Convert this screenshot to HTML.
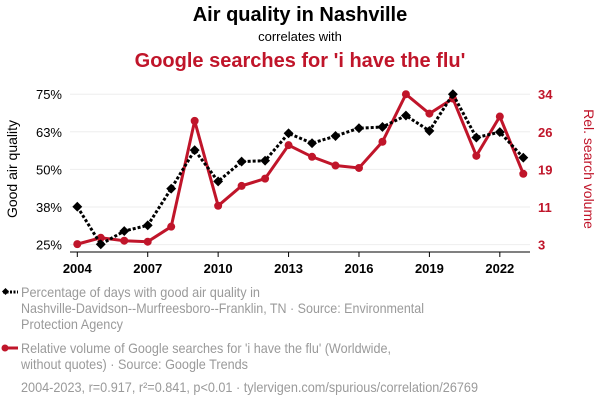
<!DOCTYPE html>
<html><head><meta charset="utf-8"><style>
body{margin:0;background:#fff;width:600px;height:408px;overflow:hidden;font-family:"Liberation Sans",sans-serif}
svg{display:block}
.leg{font-size:14px;fill:#9a9a9a}
</style></head><body>
<svg width="600" height="408" xmlns="http://www.w3.org/2000/svg">
<text x="300" y="21" text-anchor="middle" font-size="20" font-weight="bold" fill="#000">Air quality in Nashville</text>
<text x="300" y="41" text-anchor="middle" font-size="13" fill="#000">correlates with</text>
<text x="300" y="67" text-anchor="middle" font-size="20" font-weight="bold" fill="#c0152a">Google searches for 'i have the flu'</text>
<g id="grid"></g><g id="axes"></g><g id="series"></g>
<text transform="translate(17,169) rotate(-90)" text-anchor="middle" font-size="14" fill="#000">Good air quality</text>
<text transform="translate(584,169) rotate(90)" text-anchor="middle" font-size="14" fill="#c0152a">Rel. search volume</text>
<g>
<line x1="3" y1="292" x2="18" y2="292" stroke="#000" stroke-width="3" stroke-dasharray="2,1.5"/>
<rect x="3" y="289" width="5" height="5" transform="rotate(45 5.5 291.5)" fill="#000"/>
<text class="leg" x="21" y="297" textLength="239" lengthAdjust="spacingAndGlyphs">Percentage of days with good air quality in</text>
<text class="leg" x="21" y="313" textLength="403" lengthAdjust="spacingAndGlyphs">Nashville-Davidson--Murfreesboro--Franklin, TN · Source: Environmental</text>
<text class="leg" x="21" y="329" textLength="102" lengthAdjust="spacingAndGlyphs">Protection Agency</text></g>
<g>
<line x1="3" y1="348" x2="18" y2="348" stroke="#c0152a" stroke-width="3"/>
<circle cx="5" cy="348" r="3.5" fill="#c0152a"/>
<text class="leg" x="21" y="353" textLength="370" lengthAdjust="spacingAndGlyphs">Relative volume of Google searches for 'i have the flu' (Worldwide,</text>
<text class="leg" x="21" y="369" textLength="227" lengthAdjust="spacingAndGlyphs">without quotes) · Source: Google Trends</text></g>
<text class="leg" x="21" y="392" textLength="457" lengthAdjust="spacingAndGlyphs">2004-2023, r=0.917, r²=0.841, p&lt;0.01 · tylervigen.com/spurious/correlation/26769</text>
</svg>
<script>
const years=[2004,2005,2006,2007,2008,2009,2010,2011,2012,2013,2014,2015,2016,2017,2018,2019,2020,2021,2022,2023];
const airValues=[37.6,25.1,29.5,31.4,43.6,56.4,46,52.6,52.9,62,58.7,61.1,63.7,64.1,67.9,62.8,75,60.6,62.4,53.9];
const fluValues=[3.1,4.4,3.8,3.6,6.7,28.5,11,15.1,16.6,23.5,21.1,19.3,18.8,24.2,34,30,33.1,21.3,29.4,17.6];
const leftTicks=[25,37.5,50,62.5,75];
const leftLabels=["25%","38%","50%","63%","75%"];
const rightTicks=[3,10.75,18.5,26.25,34];
const rightLabels=["3","11","19","26","34"];
const xTicks=[2004,2007,2010,2013,2016,2019,2022];
const NS="http://www.w3.org/2000/svg";
const X=y=>77.3+(y-2004)*(446/19);
const YL=v=>244.6-(v-25)*(150.4/50);
const YR=v=>244.6-(v-3)*(150.4/31);
function mk(t,a,p){const e=document.createElementNS(NS,t);for(const k in a)e.setAttribute(k,a[k]);p.appendChild(e);return e;}
const grid=document.getElementById('grid'),axes=document.getElementById('axes'),ser=document.getElementById('series');
leftTicks.forEach((v,i)=>{
 const g=mk('line',{x1:70,x2:530,y1:YL(v),y2:YL(v),stroke:'#eee','stroke-width':1},grid);
 
 
 const t=mk('text',{x:62,y:YL(v)+5,'text-anchor':'end','font-size':13,fill:'#000'},axes);t.textContent=leftLabels[i];
 
 
});
rightTicks.forEach((v,i)=>{
 const t=mk('text',{x:538,y:YR(v)+5,'font-size':13,'font-weight':'bold',fill:'#c0152a'},axes);t.textContent=rightLabels[i];
 
 
});
const xa=mk('line',{x1:70,x2:530,y1:252,y2:252,stroke:'#000','stroke-width':1},axes);


xTicks.forEach(y=>{
 mk('line',{x1:X(y),x2:X(y),y1:252,y2:257,stroke:'#000'},axes);
 const t=mk('text',{x:X(y),y:273,'text-anchor':'middle','font-size':13,'font-weight':'bold',fill:'#000'},axes);t.textContent=y;
 
 
});
const fl=mk('polyline',{points:years.map((y,i)=>X(y)+','+YR(fluValues[i])).join(' '),fill:'none',stroke:'#c0152a','stroke-width':3},ser);


years.forEach((y,i)=>{const c=mk('circle',{cx:X(y),cy:YR(fluValues[i]),r:4,fill:'#c0152a'},ser);
 
 });
const al=mk('polyline',{points:years.map((y,i)=>X(y)+','+YL(airValues[i])).join(' '),fill:'none',stroke:'#000','stroke-width':3,'stroke-dasharray':'3,2'},ser);


years.forEach((y,i)=>{const cx=X(y),cy=YL(airValues[i]);
 const r=mk('rect',{x:cx-3.5,y:cy-3.5,width:7,height:7,fill:'#000',transform:`rotate(45 ${cx} ${cy})`},ser);
 
 });
</script>
</body></html>
